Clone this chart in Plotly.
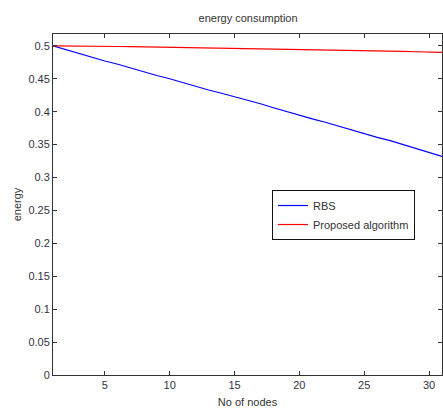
import plotly.graph_objects as go

nodes = list(range(1, 32))
rbs = [0.500, 0.494, 0.488, 0.483, 0.477, 0.472, 0.466, 0.461, 0.455, 0.450,
       0.444, 0.439, 0.433, 0.428, 0.423, 0.417, 0.412, 0.406, 0.400, 0.395,
       0.389, 0.384, 0.378, 0.373, 0.367, 0.361, 0.356, 0.350, 0.344, 0.338, 0.332]
proposed = [0.500, 0.500, 0.4998, 0.4995, 0.4992, 0.499, 0.4988, 0.4985, 0.4982, 0.498,
            0.4977, 0.4974, 0.4971, 0.4968, 0.4965, 0.4962, 0.4958, 0.4955, 0.4952, 0.4948,
            0.4944, 0.494, 0.4936, 0.4932, 0.4928, 0.4924, 0.492, 0.4915, 0.491, 0.4905, 0.490]
ytick_vals = [0, 0.05, 0.1, 0.15, 0.2, 0.25, 0.3, 0.35, 0.4, 0.45, 0.5]
ytick_text = ["0", "0.05", "0.1", "0.15", "0.2", "0.25", "0.3", "0.35", "0.4", "0.45", "0.5"]
xtick_vals = [5, 10, 15, 20, 25, 30]

fig = go.Figure()
fig.add_trace(go.Scatter(x=nodes, y=rbs, mode="lines", name="RBS",
                         line=dict(color="#0000ff", width=1.2)))
fig.add_trace(go.Scatter(x=nodes, y=proposed, mode="lines", name="Proposed algorithm",
                         line=dict(color="#ff0000", width=1.2)))

axis_common = dict(showline=True, linecolor="#333333", linewidth=1, mirror="ticks",
                   ticks="inside", ticklen=4, tickcolor="#333333", showgrid=False,
                   zeroline=False, tickfont=dict(size=11, color="#333344"))
fig.update_xaxes(range=[1, 31], tickvals=xtick_vals,
                 title=dict(text="No of nodes", font=dict(size=11, color="#333333"), standoff=8),
                 **axis_common)
fig.update_yaxes(range=[0, 0.518], tickvals=ytick_vals, ticktext=ytick_text,
                 title=dict(text="energy", font=dict(size=11, color="#333333"), standoff=4),
                 **axis_common)

fig.update_layout(
    width=443, height=410,
    margin=dict(l=53, r=1, t=34, b=35),
    paper_bgcolor="white", plot_bgcolor="white",
    font=dict(family="Liberation Sans, Arial, sans-serif", size=11, color="#333333"),
    title=dict(text="energy consumption", x=0.56, xanchor="center", y=0.955, yanchor="middle",
               font=dict(size=11, color="#333333")),
    legend=dict(x=0.563, y=0.5425, xanchor="left", yanchor="top",
                bordercolor="#111111", borderwidth=1, bgcolor="white",
                font=dict(size=11, color="#333333"), tracegroupgap=0,
                itemwidth=30),
    showlegend=True,
)

fig.write_html("out.html")
